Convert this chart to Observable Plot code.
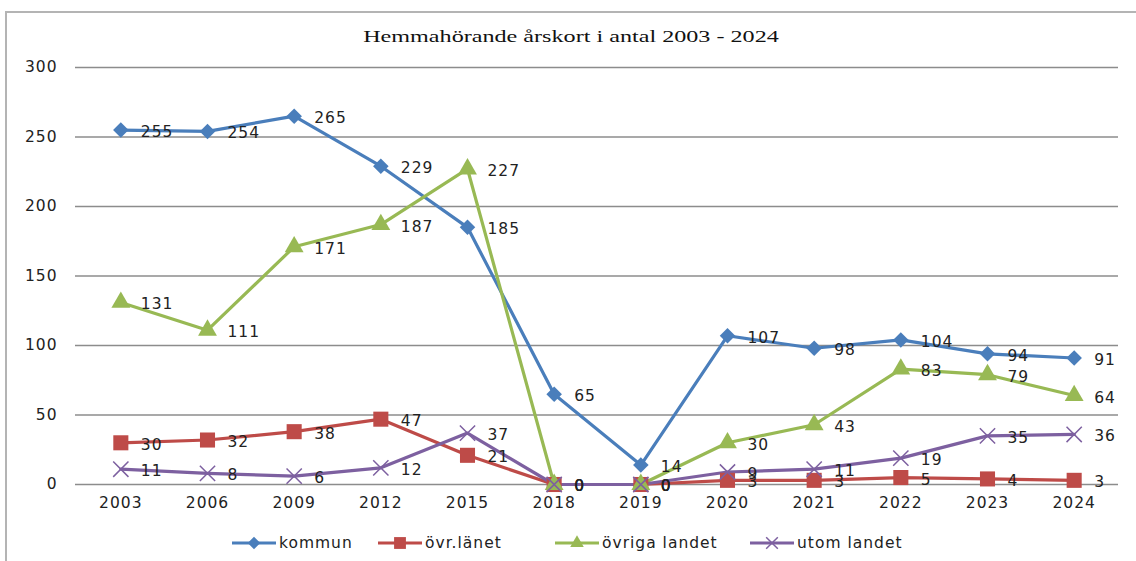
<!DOCTYPE html>
<html>
<head>
<meta charset="utf-8">
<script src="https://cdn.jsdelivr.net/npm/d3@7"></script>
<script src="https://cdn.jsdelivr.net/npm/@observablehq/plot@0.6"></script>
<style>
  html, body { margin: 0; padding: 0; background: #fff; }
  #wrap { position: relative; width: 1136px; height: 561px; overflow: hidden; }
  #frame { position: absolute; left: 5px; top: 11px; width: 1140px; height: 560px;
           border-top: 2px solid #b4b4b4; border-left: 2px solid #b4b4b4; }
  #title { position: absolute; left: 0; width: 1142px; top: 27px; text-align: center;
           font-family: "Liberation Serif", "DejaVu Serif", serif; font-size: 17px; color: #111;
           transform: scaleX(1.42); transform-origin: 571px 0; }
  #chart { position: absolute; left: 0; top: 50px; }
  #chart svg text { letter-spacing: 1px; }
  #legend { position: absolute; top: 532px; left: 0; width: 1136px; height: 22px;
            font-family: "DejaVu Sans", sans-serif; font-size: 15.5px; letter-spacing: 1px; color: #222; }
  .item { position: absolute; top: 0; display: flex; align-items: center; height: 22px; }
  .item svg { margin-right: 3px; }
</style>
</head>
<body>
<div id="wrap">
  <div id="frame"></div>
  <div id="title">Hemmahörande årskort i antal 2003 - 2024</div>
  <div id="chart"></div>
  <div id="legend"></div>
</div>
<script>
const years = ["2003","2006","2009","2012","2015","2018","2019","2020","2021","2022","2023","2024"];
const seriesNames = ["kommun","övr.länet","övriga landet","utom landet"];
const kommun       = [255,254,265,229,185,65,14,107,98,104,94,91];
const ovrLanet     = [30,32,38,47,21,0,0,3,3,5,4,3];
const ovrigaLandet = [131,111,171,187,227,0,0,30,43,83,79,64];
const utomLandet   = [11,8,6,12,37,0,0,9,11,19,35,36];
const yTicks = [0,50,100,150,200,250,300];
const colors = ["#4A7EBB","#BE4B48","#98B954","#7D60A0"];

const seriesValues = [kommun, ovrLanet, ovrigaLandet, utomLandet];
const rows = [];
seriesNames.forEach((s, i) => {
  years.forEach((y, j) => rows.push({series: s, year: y, value: seriesValues[i][j]}));
});
const bySeries = s => rows.filter(d => d.series === s);

const chart = Plot.plot({
  width: 1136,
  height: 470,
  marginLeft: 77,
  marginRight: 19,
  marginTop: 17,
  marginBottom: 36,
  style: {fontFamily: "'DejaVu Sans', sans-serif", fontSize: "15.5px", color: "#222", background: "transparent"},
  x: {type: "point", domain: years, padding: 0.5, round: false, label: null},
  y: {domain: [0, 300], label: null},
  marks: [
    Plot.gridY(yTicks, {stroke: "#8c8c8c", strokeOpacity: 1, strokeWidth: 1.5, insetLeft: -2, insetRight: -1}),
    Plot.axisY(yTicks, {tickSize: 0, tickPadding: 20, fontSize: 15.5, label: null}),
    Plot.axisX({tickSize: 0, tickPadding: 12, fontSize: 15.5, label: null}),
    ...seriesNames.map((s, i) => Plot.line(bySeries(s), {x: "year", y: "value", stroke: colors[i], strokeWidth: 3.2})),
    Plot.dot(bySeries("kommun"), {x: "year", y: "value", symbol: "diamond2", r: 7, fill: colors[0], stroke: null}),
    Plot.dot(bySeries("övr.länet"), {x: "year", y: "value", symbol: "square", r: 8.5, fill: colors[1]}),
    Plot.dot(bySeries("övriga landet"), {x: "year", y: "value", symbol: "triangle", r: 7, fill: colors[2]}),
    Plot.dot(bySeries("utom landet"), {x: "year", y: "value", symbol: "times", r: 7, stroke: colors[3], strokeWidth: 1.5}),
    Plot.text(rows, {x: "year", y: "value", text: d => String(d.value), dx: 20, dy: 2, textAnchor: "start", fill: "#222", fontSize: 15.5})
  ]
});
document.getElementById("chart").appendChild(chart);

// legend
const legend = document.getElementById("legend");
const legendX = [232, 378, 555, 750];
const symPaths = {
  "kommun": d3.symbol(d3.symbolDiamond2, 100)(),
  "övr.länet": d3.symbol(d3.symbolSquare, 140)(),
  "övriga landet": d3.symbol(d3.symbolTriangle, 80)(),
  "utom landet": d3.symbol(d3.symbolTimes, 90)()
};
seriesNames.forEach((s, i) => {
  const item = document.createElement("div");
  item.className = "item";
  item.style.left = legendX[i] + "px";
  const isX = s === "utom landet";
  item.innerHTML = `<svg width="44" height="22"><line x1="0" x2="44" y1="11" y2="11" stroke="${colors[i]}" stroke-width="3.2"/>` +
    `<path transform="translate(22,11)" d="${symPaths[s]}" ${isX ? `fill="none" stroke="${colors[i]}" stroke-width="1.5"` : `fill="${colors[i]}"`}/></svg><span>${s}</span>`;
  legend.appendChild(item);
});
</script>
</body>
</html>
